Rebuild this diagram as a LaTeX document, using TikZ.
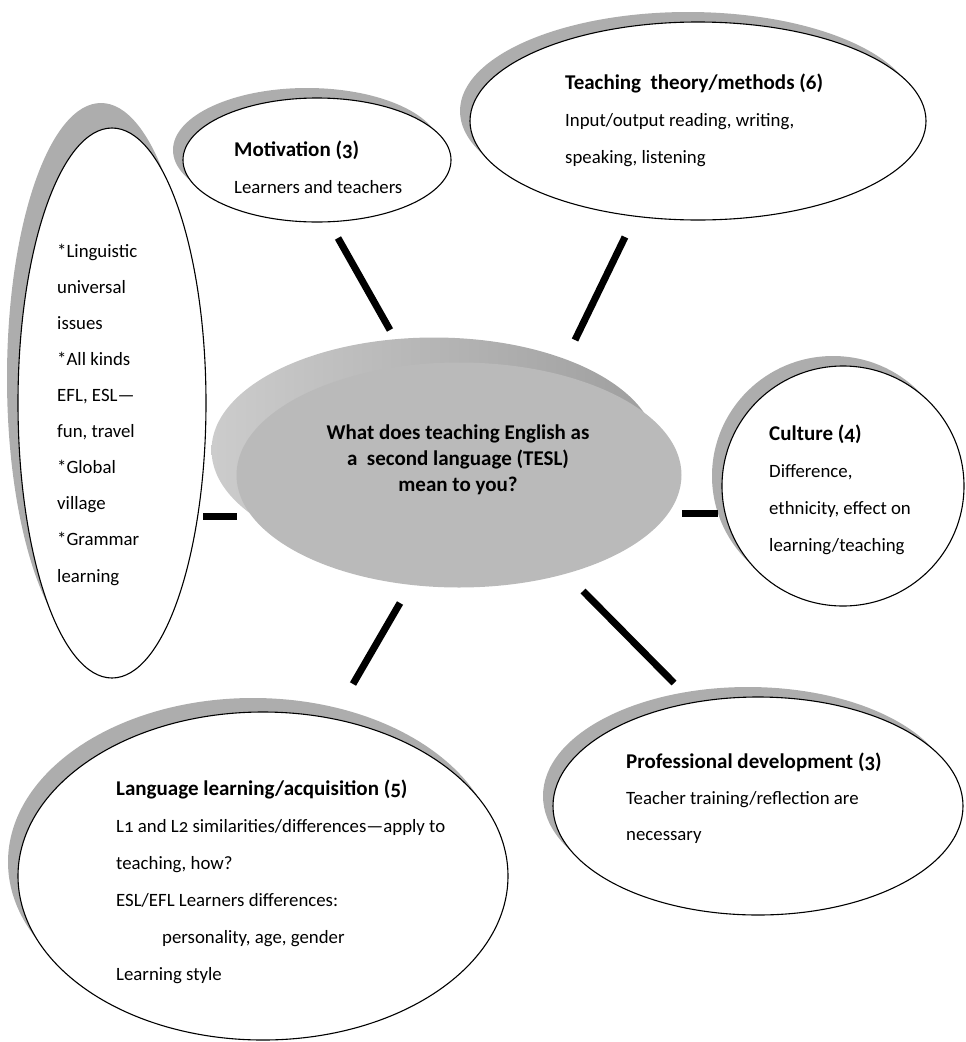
\documentclass[tikz,border=0pt]{standalone}
\usepackage{fontspec}
\setmainfont{Carlito}[Numbers=OldStyle]
\usetikzlibrary{shapes.geometric,shadows}
\newcommand{\hd}[1]{{\bfseries\fontsize{21}{37}\selectfont #1}}

\begin{document}
\begin{tikzpicture}[x=1pt,y=-1pt,
  bubble/.style={ellipse,draw,line width=1.1pt,fill=white,inner sep=0pt},
  shade10/.style={drop shadow={shadow xshift=-10pt,shadow yshift=10pt,fill=black!32,opacity=1}},
  bar/.style={line width=7pt},
  txt/.style={anchor=base west,align=left,inner sep=0pt,font=\fontsize{18.8}{37}\selectfont}]
\useasboundingbox (0,0) rectangle (966,1042);
%left bubble (text anchored at its last line)
\node[bubble,minimum width=188pt,minimum height=550pt,
  drop shadow={shadow xshift=-11pt,shadow yshift=25pt,fill=black!32,opacity=1}] (univ) at (112,403) {};
\node[txt,font=\fontsize{18.8}{36.1}\selectfont] (univtxt) at (57,582) {*Linguistic\\universal\\issues\\*All kinds\\EFL, ESL—\\fun, travel\\*Global\\village\\*Grammar\\learning};
%top bubbles
\node[bubble,shade10,minimum width=268pt,minimum height=124pt] (motiv) at (317,160) {};
\node[txt] (motivtxt) at (234,193) {\hd{Motivation (3)}\\Learners and teachers};
\node[bubble,shade10,minimum width=456pt,minimum height=198pt] (method) at (698,121) {};
\node[txt] (methodtxt) at (565,163) {\hd{Teaching~ theory/methods (6)}\\Input/output reading, writing,\\speaking, listening};
%right bubbles
\node[bubble,shade10,minimum width=242pt,minimum height=240pt] (cult) at (843,486) {};
\node[txt] (culttxt) at (769,551) {\hd{Culture (4)}\\Difference,\\ethnicity, effect on\\learning/teaching};
\node[bubble,shade10,minimum width=410pt,minimum height=218pt] (prof) at (758,806) {};
\node[txt,font=\fontsize{18.8}{36}\selectfont] (proftxt) at (626,840) {\hd{Professional development (3)}\\Teacher training/reflection are\\necessary};
%bottom left bubble
\node[bubble,minimum width=490pt,minimum height=328pt,
  drop shadow={shadow xshift=-10pt,shadow yshift=14pt,fill=black!32,opacity=1}] (lang) at (263,876) {};
\node[txt] (langtxt) at (116,980) {\hd{Language learning/acquisition (5)}\\L1 and L2 similarities/differences—apply to\\teaching, how?\\ESL/EFL Learners differences:\\\hspace*{46pt}personality, age, gender\\Learning style};
%centre disc
\node[ellipse,minimum width=445pt,minimum height=225pt,left color=black!20,middle color=black!43,right color=black!38] (back) at (434,450) {};
\node[ellipse,minimum width=445pt,minimum height=225pt,fill=black!27] (tesl) at (459,475) {};
\node[anchor=base,align=center,inner sep=0pt,font=\bfseries\fontsize{21}{26}\selectfont] (tesltxt) at (458,491) {What does teaching English as\\a~ second language (TESL)\\mean to you?};
%bars
\coordinate (m1) at (338,238); \coordinate (m2) at (390,330); \draw[bar] (m1) -- (m2);
\coordinate (t1) at (625,237); \coordinate (t2) at (575,340); \draw[bar] (t1) -- (t2);
\coordinate (u1) at (203,516); \coordinate (u2) at (237,516); \draw[bar] (u1) -- (u2);
\coordinate (c1) at (682,513); \coordinate (c2) at (718,513); \draw[bar] (c1) -- (c2);
\coordinate (l1) at (400,603); \coordinate (l2) at (353,684); \draw[bar] (l1) -- (l2);
\coordinate (p1) at (583,591); \coordinate (p2) at (674,683); \draw[bar] (p1) -- (p2);
\end{tikzpicture}
\end{document}
